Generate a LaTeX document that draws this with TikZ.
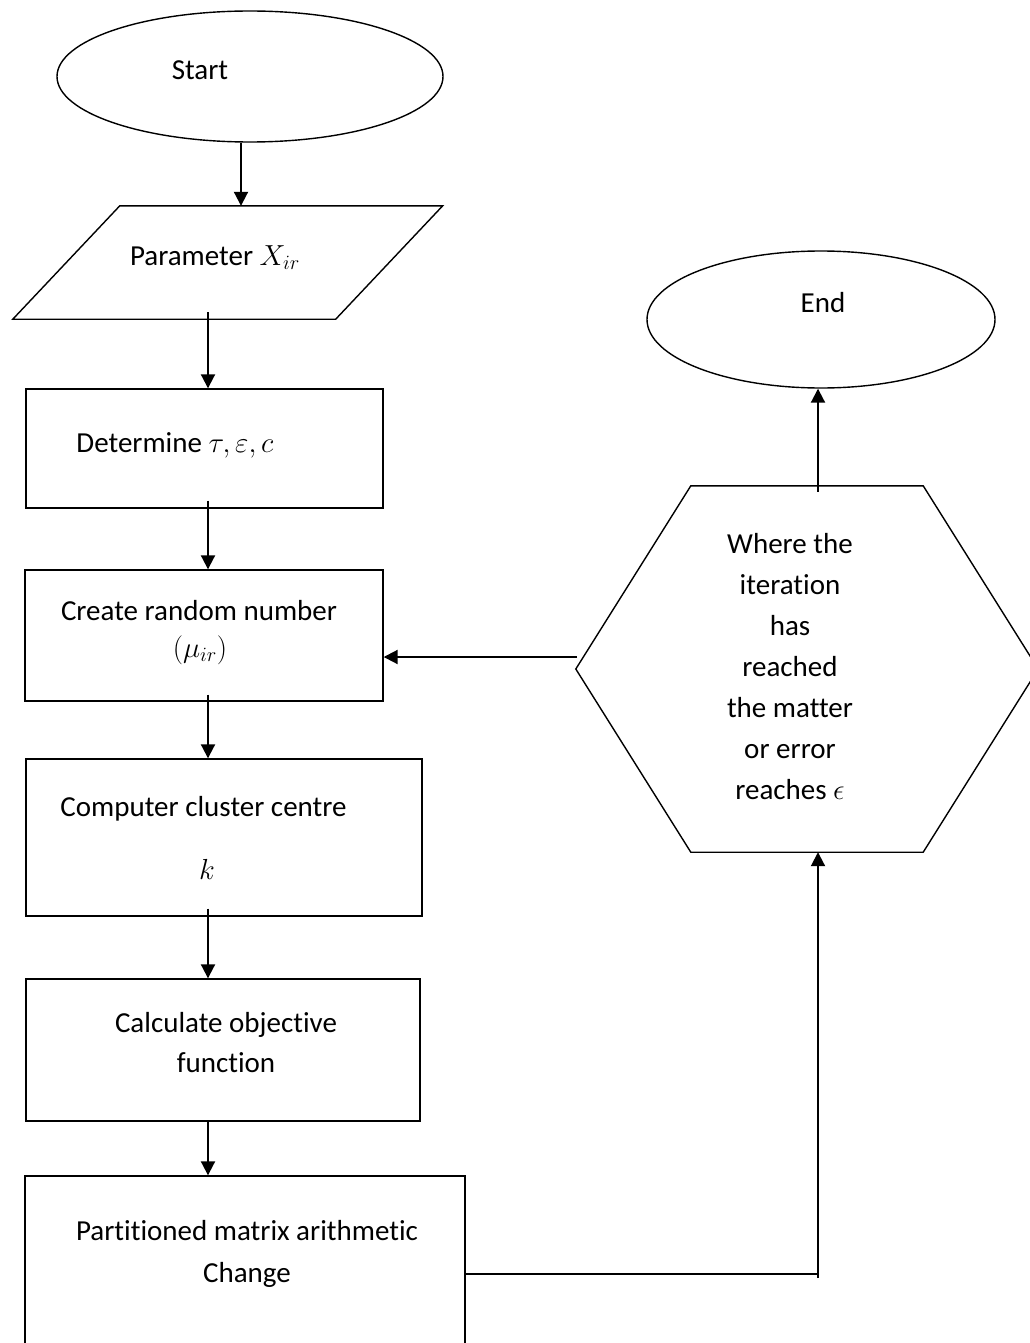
\RequirePackage{fix-cm}
\documentclass[tikz,border=0pt]{standalone}
\usepackage{fontspec}
\setmainfont{Carlito}[Ligatures=NoCommon]
\usetikzlibrary{arrows.meta,shapes.geometric,calc}
\begin{document}
\begin{tikzpicture}[x=1pt,y=-1pt,
  shp/.style={draw, line width=1.4pt, inner sep=0pt},
  ghost/.style={inner sep=0pt, rectangle},
  lbl/.style={anchor=base, inner sep=0pt, font=\fontsize{29}{41}\selectfont},
  arr/.style={line width=2pt, -{Triangle[length=14pt,width=14pt]}},
  con/.style={line width=2pt}
]
\useasboundingbox (0,0) rectangle (1029,1343);

% shapes
\node[shp, ellipse, minimum width=386pt, minimum height=131pt] (start) at (250,76.5) {};
\node[ghost, minimum width=322.5pt, minimum height=113pt] (para) at (227.75,262.5) {};
\draw[line width=1.4pt] ([xshift=53.5pt]para.north west) -- ([xshift=53.5pt]para.north east)
  -- ([xshift=-53.5pt]para.south east) -- ([xshift=-53.5pt]para.south west) -- cycle;
\node[shp, rectangle, minimum width=357pt, minimum height=119pt] (b1) at (204.5,448.5) {};
\node[shp, rectangle, minimum width=358pt, minimum height=131pt] (b2) at (204,635.5) {};
\node[shp, rectangle, minimum width=396pt, minimum height=157pt] (b3) at (224,837.5) {};
\node[shp, rectangle, minimum width=394pt, minimum height=142pt] (b4) at (223,1050) {};
\node[shp, rectangle, minimum width=440pt, minimum height=190pt] (b5) at (245,1271) {};
\node[ghost, minimum width=232pt, minimum height=366pt] (hex) at (807,669) {};
\draw[line width=1.4pt] (hex.north west) -- (hex.north east) -- ([xshift=115pt]hex.east)
  -- (hex.south east) -- (hex.south west) -- ([xshift=-115pt]hex.west) -- cycle;
\node[shp, ellipse, minimum width=348pt, minimum height=137pt] (end) at (821,319.5) {};

% labels
\node[lbl] (tstart) at (200,80) {Start};
\node[lbl] (tpara) at (215,265) {Parameter $X_{ir}$};
\node[lbl] (tb1) at (175,452) {Determine $\tau,\varepsilon,c$};
\node[lbl] (tb2a) at (199,620) {Create random number};
\node[lbl] (tb2b) at (200,657) {$(\mu_{ir})$};
\node[lbl] (tb3a) at (203.5,816) {Computer cluster centre};
\node[lbl] (tb3b) at (207,879) {$k$};
\node[lbl] (tb4a) at (226,1032) {Calculate objective};
\node[lbl] (tb4b) at (226,1072) {function};
\node[lbl] (tb5a) at (247,1240) {Partitioned matrix arithmetic};
\node[lbl] (tb5b) at (247,1282) {Change};
\node[lbl] (tend) at (823,312) {End};
\foreach \t [count=\i] in {Where the, iteration, has, reached, the matter, or error, reaches $\epsilon$}
  \node[lbl] (h\i) at (790,{553+41*(\i-1)}) {\t};

% connector guides
\coordinate (xs) at (241,0);
\coordinate (xl) at (208,0);
\coordinate (xr) at (818,0);
\coordinate (yh) at (577,657);

% connectors
\draw[arr] (xs |- start.south) -- (xs |- para.north);
\draw[arr, shorten <=-7pt] (xl |- para.south) -- (xl |- b1.north);
\draw[arr, shorten <=-8pt] (xl |- b1.south) -- (xl |- b2.north);
\draw[arr, shorten <=-7pt] (xl |- b2.south) -- (xl |- b3.north);
\draw[arr, shorten <=-8pt] (xl |- b3.south) -- (xl |- b4.north);
\draw[arr] (xl |- b4.south) -- (xl |- b5.north);
\draw[arr] (yh) -- (yh -| b2.east);
\draw[arr, shorten <=-6pt] (xr |- hex.north) -- (xr |- end.south);
\coordinate (yb) at (0,1274);
\draw[con] (yb -| b5.east) -- (yb -| xr);
\draw[arr, shorten <=-4pt] (yb -| xr) -- (xr |- hex.south);
\end{tikzpicture}
\end{document}
